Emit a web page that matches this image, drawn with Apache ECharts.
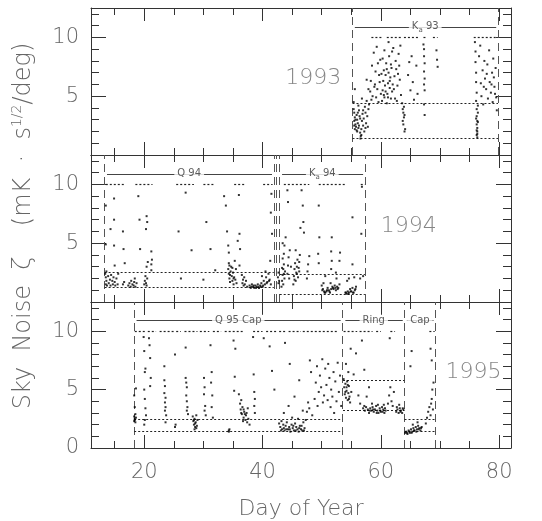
<!DOCTYPE html>
<html>
<head>
<meta charset="utf-8">
<script src="https://cdn.jsdelivr.net/npm/echarts@6/dist/echarts.min.js"></script>
<style>html,body{margin:0;padding:0;background:#fff}#main{width:542px;height:521px}</style>
</head>
<body>
<div id="main"></div>
<script>
var myChart = echarts.init(document.getElementById('main'));

var years = ['1993', '1994', '1995'];

// sky noise points [day, zeta]
var points93 = [
 [55.4,3.9],[55.5,3.6],[55.6,3.2],[55.5,2.9],[55.7,2.6],[55.8,2.4],[55.6,2.2],[55.9,3.4],[56.0,3.0],[56.1,2.7],[56.2,2.3],[56.0,2.0],
 [56.3,3.8],[56.4,3.3],[56.5,1.9],[56.6,1.6],[56.55,1.4],[56.7,1.7],[56.7,2.2],[56.8,2.9],[56.9,3.5],[57.0,2.5],[57.1,3.1],[57.2,2.0],
 [57.3,4.1],[57.4,3.6],[57.5,2.7],[57.6,4.6],[57.7,3.3],[57.8,2.4],[57.9,3.9],[58.0,4.3],[55.4,4.5],[55.6,5.6],[56.2,4.2],[56.8,4.8],
 [55.5,2.5],[55.7,3.0],[55.9,2.1],[56.1,3.6],[56.3,2.5],[56.5,3.1],[57.0,3.8],[57.4,2.3],
 [58.2,5.4],[58.3,6.3],[58.5,7.6],[58.6,5.0],[58.8,8.7],[59.0,6.0],[59.1,7.1],[59.3,9.2],[59.4,5.6],[59.6,4.5],[59.7,6.8],[59.9,8.1],[60.0,5.2],
 [59.2,4.9],[59.5,7.8],[59.8,6.2],[58.9,5.8],[58.4,4.7],[57.9,5.6],[57.6,6.4],
 [60.2,4.6],[60.3,5.5],[60.4,6.3],[60.5,7.2],[60.6,4.9],[60.7,5.9],[60.8,6.8],[60.9,7.8],[61.0,4.4],[61.1,5.2],[61.2,6.1],[61.3,7.0],
 [61.4,8.4],[61.5,5.7],[61.6,6.6],[61.7,4.8],[61.8,7.4],[61.9,5.4],[62.0,6.0],[62.1,9.1],[61.3,9.6],[60.6,8.9],
 [60.1,6.9],[60.3,8.2],[60.5,5.1],[60.8,5.4],[61.0,7.3],[61.2,4.9],[61.5,6.3],[61.7,7.7],[61.9,8.8],
 [62.2,5.6],[62.3,6.7],[62.5,8.0],[62.7,4.6],[62.9,6.9],[63.1,7.6],[63.3,9.3],
 [62.4,4.8],[62.6,7.3],[62.8,5.9],[63.0,8.6],[63.2,6.4],[63.4,5.1],[64.6,6.8],[64.8,7.9],[65.0,5.5],[65.2,8.4],[65.4,6.2],[65.6,4.7],[66.0,7.6],[66.2,5.2],
 [63.6,4.4],[63.7,3.9],[63.8,3.6],[63.9,3.2],[63.7,2.9],[63.8,2.6],[64.0,3.4],[64.1,2.2],[63.9,4.1],[64.0,2.0],
 [67.2,9.4],[67.3,9.0],[67.3,8.4],[67.4,7.8],[67.3,7.1],[67.4,6.5],[67.3,6.0],[67.4,5.5],[67.3,4.3],[67.4,3.4],
 [69.4,8.9],[69.5,8.1],[69.6,7.5],
 [75.9,9.6],[76.0,8.8],[76.0,7.9],[76.1,7.0],[76.1,6.2],[76.2,5.3],[76.1,4.6],[76.2,3.9],[76.2,3.3],[76.3,2.9],[76.2,2.6],[76.3,2.3],
 [76.3,2.0],[76.2,1.7],[76.3,1.5],[76.4,2.8],[76.4,3.6],[76.3,1.8],[76.2,2.1],[76.1,3.1],[76.4,4.2],
 [76.6,8.4],[76.8,9.3],[76.9,6.1],[77.0,5.0],[77.2,7.2],[77.3,4.3],[77.5,8.0],[77.6,6.5],[77.8,5.6],[78.0,7.7],[78.1,4.8],[78.3,8.9],
 [78.4,6.2],[78.6,5.3],[78.8,7.0],[78.9,4.5],[79.1,6.6],[79.2,5.8],[79.4,7.4],[79.5,4.9],[79.6,3.8],
 [78.7,6.0],[79.0,8.2],[79.3,5.2],[77.9,6.9],[77.4,5.8]
];
var points94 = [
 [13.4,2.4],[13.5,2.1],[13.6,1.8],[13.5,1.5],[13.7,1.4],[13.6,2.6],[13.5,4.9],[13.5,8.2],[13.9,2.2],[14.0,1.6],[14.2,1.9],[14.3,1.4],
 [14.4,2.3],[14.6,1.8],[14.7,1.5],[14.8,2.1],[15.0,1.7],[15.1,1.4],[15.0,3.1],[14.9,4.8],[14.3,6.2],[14.9,7.0],[14.9,8.8],[15.3,2.0],
 [15.5,1.5],[15.6,2.4],[16.4,1.5],[16.6,1.7],[16.7,3.3],[16.5,4.5],[16.4,6.0],
 [17.3,1.4],[17.5,1.6],[17.7,1.3],[17.8,1.8],[18.0,1.5],[18.2,1.4],[18.3,1.7],[18.5,1.3],[18.7,1.6],[18.4,2.0],
 [19.2,7.0],[19.0,9.0],[19.3,4.5],
 [20.0,1.5],[20.1,1.8],[20.2,2.2],[20.3,1.6],[20.4,1.4],[20.5,2.0],[20.4,3.0],[20.6,3.4],[20.3,6.2],[20.5,6.8],[20.4,7.3],
 [21.2,2.7],[21.2,3.2],[21.3,3.6],[21.2,4.3],
 [25.8,6.0],[26.2,2.0],[27.0,9.3],[28.0,4.4],[30.0,1.9],[30.5,6.8],[31.2,4.5],[32.0,2.7],
 [33.5,9.0],[33.8,8.2],[34.0,6.0],[34.2,4.8],[34.3,4.2],[34.3,3.3],
 [34.2,2.8],[34.3,2.4],[34.4,2.0],[34.5,1.7],[34.6,2.6],[34.7,3.0],[34.8,2.2],[34.9,1.8],[35.0,2.5],[35.1,1.5],[35.2,2.1],[35.3,3.5],
 [35.4,1.9],[35.5,2.8],[35.6,1.6],[34.5,2.3],[34.9,2.9],[35.1,2.0],[34.4,3.1],
 [36.0,9.1],[36.1,5.8],[36.2,4.5],[36.1,3.1],[35.8,5.2],
 [36.5,2.3],[36.6,1.6],[36.7,1.9],[36.8,1.4],[36.9,2.1],[37.0,1.5],[37.2,1.8],[37.4,1.3],
 [37.8,1.4],[38.0,1.2],[38.2,1.5],[38.4,1.3],[38.6,1.2],[38.8,1.4],[39.0,1.3],[39.2,1.5],[39.4,1.2],[39.6,1.4],[39.8,1.6],[40.0,1.3],
 [40.2,1.8],[40.4,1.5],[40.6,2.1],[40.8,1.7],[41.0,2.4],[41.2,1.9],[41.4,1.5],[40.5,2.6],[39.9,2.2],
 [38.1,1.3],[38.5,1.4],[38.9,1.2],[39.3,1.3],[39.7,1.3],[40.1,1.4],[40.7,1.6],[41.1,1.8],
 [41.4,7.6],[41.5,9.2],[41.3,3.5],[41.6,5.8],
 [42.6,2.1],[42.7,1.6],[42.7,2.5],[42.8,1.8],
 [43.2,1.3],[43.3,1.8],[43.4,2.3],[43.5,2.8],[43.6,3.2],[43.4,3.7],[43.5,1.5],[43.7,2.0],[43.8,2.6],[43.6,4.1],[43.7,4.8],[43.9,5.5],[43.4,5.0],
 [43.6,2.4],[43.3,2.9],
 [44.2,2.4],[44.3,3.1],[44.4,3.8],[44.5,2.0],[44.2,9.5],[44.3,8.5],[44.6,4.4],[44.8,3.0],
 [45.2,1.5],[45.3,2.2],[45.4,2.8],[45.5,3.3],[45.6,1.8],[45.7,2.5],[45.8,3.0],[45.9,3.6],[46.0,2.1],[46.1,2.9],[46.2,3.4],[46.3,4.0],[45.6,4.4],
 [45.4,1.9],[45.8,2.4],[46.2,2.6],
 [46.6,9.5],[46.8,8.2],[46.9,6.8],[47.0,5.9],[46.4,6.3],
 [47.6,2.6],[47.7,3.2],[47.9,3.9],[47.5,2.0],
 [49.5,8.2],[49.6,5.5],[49.4,4.1],[49.5,3.3],
 [50.0,1.4],[50.2,1.1],[50.4,0.9],[50.6,0.8],[50.8,0.9],[51.0,1.2],[51.2,1.0],[51.4,0.8],[51.6,1.1],[51.8,1.3],[52.0,1.1],[52.2,1.4],
 [52.4,1.0],[52.6,1.3],[52.8,1.2],[53.0,1.5],[50.3,1.6],[51.5,1.6],[52.5,2.0],[50.6,2.2],
 [50.1,1.0],[50.5,0.8],[50.9,1.0],[51.3,0.9],[51.9,1.2],[52.3,1.2],[52.7,1.1],
 [51.6,2.8],[51.7,3.5],[51.6,4.3],[51.7,5.5],[53.0,3.5],[53.1,4.2],[52.4,2.5],
 [54.0,0.8],[54.2,0.7],[54.4,0.9],[54.6,0.8],[54.8,1.1],[55.0,0.9],[55.2,1.2],[55.4,0.8],[55.6,1.0],[55.8,1.3],[54.3,1.8],[54.6,2.0],[55.5,2.1],
 [54.1,0.8],[54.5,0.7],[54.9,0.9],[55.3,0.8],[55.7,1.1],
 [55.2,7.2],[55.2,3.2],[56.7,5.8],[56.8,9.8],[56.5,2.0],[57.0,2.2]
];
var points95 = [
 [18.3,2.3],[18.4,2.5],[18.3,2.7],[18.5,2.9],[18.4,2.4],[18.6,2.6],[18.5,2.2],[18.4,3.5],[18.3,4.5],[18.6,5.1],
 [19.9,9.5],[20.0,8.3],[20.1,6.5],[20.2,6.8],[20.0,5.0],[20.1,4.2],[20.2,3.4],[20.0,2.0],[20.1,2.4],[20.3,2.8],
 [20.8,9.4],[20.9,8.8],[21.0,7.7],[21.1,6.0],[21.0,5.3],
 [23.4,7.0],[23.5,5.3],[23.4,4.7],[23.6,4.3],[23.5,3.9],[23.6,3.5],[23.5,3.2],[23.7,2.8],[23.6,2.2],[23.4,5.8],
 [25.2,8.0],[25.3,2.0],[25.2,1.8],
 [27.0,8.6],[27.0,6.0],[27.1,5.6],[27.2,5.2],[27.1,4.5],[27.2,4.0],[27.3,3.5],[27.2,3.2],[27.4,2.9],
 [28.2,2.7],[28.3,2.3],[28.4,2.0],[28.5,2.5],[28.6,1.8],[28.7,2.2],[28.8,2.8],[28.5,1.6],[28.9,1.9],[29.0,2.4],
 [28.4,2.4],[28.6,2.1],[28.8,1.7],
 [30.1,6.0],[30.2,5.2],[30.1,4.6],[30.3,3.6],[30.2,3.2],[30.4,2.8],
 [31.2,8.8],[31.4,6.5],[31.3,5.6],[31.5,4.5],[31.4,3.5],[31.6,2.6],
 [34.3,1.4],[34.4,1.6],[34.3,1.5],
 [35.2,4.9],[35.3,6.1],[35.4,8.5],[35.1,9.2],
 [36.0,4.6],[36.2,3.8],[36.3,3.3],[36.5,2.9],[36.6,3.5],[36.8,2.6],[36.9,3.1],[37.1,2.4],[37.2,2.8],[37.4,2.2],[37.5,3.4],[37.6,2.5],
 [37.8,2.0],[36.4,4.1],[36.7,2.3],[36.4,3.0],[36.8,3.3],[37.0,2.9],[37.3,3.0],
 [38.4,9.5],[38.5,6.3],[38.6,4.8],[38.7,4.2],[38.6,3.6],[38.7,3.0],
 [40.2,9.4],[41.2,8.7],[42.0,5.0],[41.6,6.6],[43.8,9.0],[44.6,7.2],
 [42.8,2.1],[43.0,1.8],[43.2,2.3],[43.3,1.6],[43.5,2.0],[43.7,1.5],[43.9,1.9],[44.1,2.2],[44.3,1.6],[44.5,1.8],[44.7,1.4],[44.9,2.0],
 [45.1,1.7],[45.3,1.5],[45.5,2.1],[45.7,1.8],[45.9,1.6],[46.1,1.4],[46.3,1.9],[46.5,1.6],[46.7,1.5],[46.9,2.2],[47.1,1.7],[45.0,2.6],
 [46.0,2.5],[47.3,2.4],
 [43.1,1.5],[43.6,1.7],[44.0,1.6],[44.6,1.6],[45.2,1.9],[45.6,1.5],[46.2,1.7],[46.6,1.9],[47.0,1.5],
 [43.6,3.0],[44.4,3.6],[45.4,4.4],[46.2,5.8],[46.8,3.2],
 [47.5,3.1],[47.7,3.9],[47.9,3.4],[48.0,7.5],[48.2,6.5],[48.4,2.8],
 [48.8,4.2],[49.0,5.6],[49.2,7.0],[49.3,3.6],[49.5,4.8],[49.7,6.2],[49.9,5.2],[50.1,7.6],[50.2,3.9],[50.4,4.5],[50.6,6.8],[50.8,5.4],
 [51.0,4.1],[51.1,7.2],[51.3,6.0],[51.5,3.5],[51.6,5.0],[51.8,4.4],[52.0,6.5],[52.1,3.0],[52.3,5.7],[52.5,4.0],[52.7,7.3],[52.9,4.8],
 [53.1,6.2],[53.3,3.6],
 [53.7,5.9],[53.8,5.2],[53.9,4.6],[54.0,5.5],[54.1,4.3],[54.2,4.9],[54.3,5.7],[54.4,4.1],[54.5,4.7],[54.6,5.3],[54.7,4.4],[54.8,3.9],
 [54.5,6.5],[54.1,7.2],[54.9,8.5],[55.0,4.8],[54.2,5.2],[54.4,5.4],[54.6,4.2],[54.0,4.8],
 [55.4,6.3],[55.8,8.1],[56.2,4.5],[56.5,3.8],[56.8,9.2],[57.2,6.7],[57.6,4.4],[58.0,5.2],
 [57.0,3.4],[57.2,3.6],[57.3,3.2],[57.5,3.5],
 [57.8,3.3],[58.0,3.0],[58.2,3.4],[58.4,3.2],[58.6,3.5],[58.8,3.1],[59.0,3.3],[59.2,3.6],[59.4,3.2],[59.6,3.0],[59.8,3.4],[60.0,3.1],
 [60.2,3.5],[60.4,3.3],[60.6,3.0],[60.8,3.2],[58.5,3.8],[59.5,3.7],[60.5,3.7],
 [58.1,3.2],[58.7,3.3],[59.3,3.0],[59.9,3.2],[60.3,3.1],[60.7,3.4],
 [61.2,3.8],[61.4,4.5],[61.6,5.2],[61.8,4.0],[62.0,3.6],[61.5,9.4],[62.2,4.8],
 [62.6,3.1],[62.8,3.3],[63.0,3.0],[63.2,3.4],[63.4,3.2],[63.6,3.0],[63.8,3.3],[63.1,3.7],[62.7,3.5],[63.3,3.1],[63.7,3.4],
 [64.1,1.3],[64.3,1.4],[64.5,1.2],[64.7,1.5],[64.9,1.3],[65.1,1.6],[65.3,1.4],[65.5,1.7],[65.7,1.5],[65.9,1.8],[66.1,1.6],[66.3,1.9],
 [66.5,1.7],[66.7,1.5],[66.9,1.8],[65.4,2.0],[66.2,2.2],
 [64.4,1.3],[64.8,1.4],[65.2,1.3],[65.6,1.5],[66.0,1.4],[66.4,1.6],[66.8,1.7],
 [65.0,7.0],[65.2,8.3],
 [67.6,2.1],[67.8,2.6],[68.0,3.1],[68.2,3.5],[68.4,2.8],[68.6,4.2],[68.7,5.0],[68.5,3.8],[68.8,3.3],[68.4,8.5],[68.6,7.5],[68.9,5.6]
];

// runs of points clipped at zeta = 10 [from day, to day]
var clip93 = [[58.4,60.3],[61.0,63.6],[63.9,66.4],[67.2,67.7],[68.8,69.6],[75.7,79.8]];
var clip94 = [[13.5,16.7],[18.5,21.4],[25.4,28.4],[30.0,31.9],[35.2,37.1],[40.1,41.7],[43.6,47.9],[49.5,53.9],[56.6,57.3]];
var clip95 = [[18.4,20.2],[20.6,22.0],[22.6,25.0],[25.4,26.2],[26.8,29.0],[29.4,31.0],[31.6,33.0],[33.6,36.8],[38.4,40.0],
              [40.6,42.4],[42.8,44.0],[44.4,46.5],[46.8,52.8],[53.7,56.0],[56.4,58.6],[59.2,60.0],[61.6,62.4],[68.2,69.1]];

// observing campaigns
var spans93 = [{name: 'K{sub|a} 93', from: 55.2, to: 79.8}];
var spans94 = [{name: 'Q 94', from: 13.3, to: 41.9}, {name: 'K{sub|a} 94', from: 42.9, to: 57.3}];
var spans95 = [{name: 'Q 95 Cap', from: 18.3, to: 53.5}, {name: 'Ring', from: 53.6, to: 64.0}, {name: 'Cap', from: 64.0, to: 69.2}];
var edges93 = [55.2, 79.8];
var edges94 = [13.3, 41.9, 42.4, 42.9, 57.3];
var edges95 = [18.3, 53.5, 64.0, 69.2];

// cut levels [from, to, zeta]
var levels93 = [[55.2,79.8,4.4],[55.2,79.8,1.4]];
var levels94 = [[13.3,41.9,2.5],[13.3,41.9,1.25],[42.9,57.3,2.4],[42.9,57.3,0.65]];
var levels95 = [[18.3,53.5,2.43],[18.3,53.5,1.41],[53.6,64.0,5.8],[53.6,64.0,3.2],[64.0,69.2,2.46],[64.0,69.2,1.41]];

var xTicks = [15,20,25,30,35,40,45,50,55,60,65,70,75,80];
var xLabels = [20,40,60,80];
var yTicks = [1,2,3,4,5,6,7,8,9,10,11,12];
var yMajor = [5,10];

var panels = [
  {points: points93, clip: clip93, spans: spans93, edges: edges93, levels: levels93},
  {points: points94, clip: clip94, spans: spans94, edges: edges94, levels: levels94},
  {points: points95, clip: clip95, spans: spans95, edges: edges95, levels: levels95}
];
var yearPos = [[53.3, 6.5, 'right'], [60.0, 6.4, 'left'], [80.4, 6.5, 'right']];

var font = '"DejaVu Sans", sans-serif';
var ink = '#333';
var grey = '#666';
var tops = [8, 155, 302];
var grids = [], xAxes = [], yAxes = [], series = [];

function xAxis(g, pos, major, labels) {
  return {
    gridIndex: g, type: 'value', min: 11, max: 82, position: pos,
    axisLine: {show: !major, onZero: false, lineStyle: {color: ink, width: 1}},
    axisTick: {show: true, inside: true, length: major ? 13 : 7, customValues: major ? xLabels : xTicks, lineStyle: {color: ink}},
    axisLabel: {show: !!labels, customValues: xLabels, margin: 14, color: grey, fontSize: 21, fontFamily: font, fontWeight: 200},
    splitLine: {show: false},
    name: labels ? 'Day of Year' : '', nameLocation: 'middle', nameGap: 50,
    nameTextStyle: {color: grey, fontSize: 22, fontFamily: font, fontWeight: 200}
  };
}
function yAxis(g, pos, major, labels) {
  return {
    gridIndex: g, type: 'value', min: 0, max: 12.5, position: pos,
    axisLine: {show: !major, onZero: false, lineStyle: {color: ink, width: 1}},
    axisTick: {show: true, inside: true, length: major ? 15 : 8, customValues: major ? yMajor : yTicks, lineStyle: {color: ink}},
    axisLabel: {show: !!labels, customValues: g === 2 ? [0, 5, 10] : yMajor, margin: 12, color: grey, fontSize: 21, fontFamily: font, fontWeight: 200},
    splitLine: {show: false}
  };
}

panels.forEach(function (p, g) {
  grids.push({left: 91, right: 31, top: tops[g], height: 147});
  var xi = xAxes.length, yi = yAxes.length;
  xAxes.push(xAxis(g, 'bottom', false, g === 2), xAxis(g, 'bottom', true), xAxis(g, 'top', false), xAxis(g, 'top', true));
  yAxes.push(yAxis(g, 'left', false, true), yAxis(g, 'left', true), yAxis(g, 'right', false), yAxis(g, 'right', true));
  var base = {xAxisIndex: xi, yAxisIndex: yi, silent: true, animation: false};

  series.push(Object.assign({
    type: 'lines', coordinateSystem: 'cartesian2d', polyline: false, z: 3,
    lineStyle: {color: '#555', width: 1, opacity: 1, type: [8, 5]},
    data: p.edges.map(function (x) { return {coords: [[x, 0], [x, 12.5]]}; })
  }, base));
  series.push(Object.assign({
    type: 'lines', coordinateSystem: 'cartesian2d', polyline: false, z: 3,
    lineStyle: {color: '#222', width: 1, opacity: 1, type: [2, 2]},
    data: p.levels.map(function (l) { return {coords: [[l[0], l[2]], [l[1], l[2]]]}; })
  }, base));
  series.push(Object.assign({
    type: 'lines', coordinateSystem: 'cartesian2d', polyline: false, z: 3,
    lineStyle: {color: '#222', width: 1.2, opacity: 1, type: [2, 2]},
    data: p.clip.map(function (c) { return {coords: [[c[0], 10], [c[1], 10]]}; })
  }, base));
  series.push(Object.assign({
    type: 'lines', coordinateSystem: 'cartesian2d', polyline: false, z: 3,
    lineStyle: {color: '#444', width: 1, opacity: 1},
    data: p.spans.map(function (s) { return {coords: [[s.from + 0.4, 10.9], [s.to - 0.3, 10.9]]}; })
  }, base));
  series.push(Object.assign({
    type: 'scatter', symbolSize: 0, z: 4,
    label: {
      show: true, position: 'inside', formatter: function (d) { return d.name; },
      backgroundColor: '#fff', padding: [1, 3], color: '#333', fontSize: 10, fontFamily: font,
      rich: {sub: {fontSize: 7, color: '#333', fontFamily: font, padding: [6, 0, 0, 0]}}
    },
    data: p.spans.map(function (s) { return {name: s.name, value: [(s.from + s.to) / 2, 10.9]}; })
  }, base));
  series.push(Object.assign({
    type: 'scatter', symbol: 'rect', symbolSize: 2, z: 5,
    itemStyle: {color: '#000'},
    data: p.points
  }, base));
  series.push(Object.assign({
    type: 'scatter', symbolSize: 0, z: 4,
    label: {show: true, position: 'inside', align: yearPos[g][2], formatter: years[g],
      color: grey, fontSize: 22, fontFamily: font, fontWeight: 200},
    data: [[yearPos[g][0], yearPos[g][1]]]
  }, base));
});

var option = {
  animation: false,
  grid: grids,
  xAxis: xAxes,
  yAxis: yAxes,
  graphic: [{
    type: 'text', x: 24, y: 226, rotation: Math.PI / 2,
    style: {
      text: '{a|Sky  Noise  ζ    (mK  ·  s}{s|1/2}{a|/deg)}',
      align: 'center', verticalAlign: 'middle',
      rich: {
        a: {fontSize: 24, fontFamily: font, fontWeight: 200, fill: grey, color: grey},
        s: {fontSize: 14, fontFamily: font, fontWeight: 200, fill: grey, color: grey, padding: [0, 0, 13, 0]}
      }
    }
  }],
  series: series
};

myChart.setOption(option);
window.onresize = myChart.resize;
</script>
</body>
</html>
